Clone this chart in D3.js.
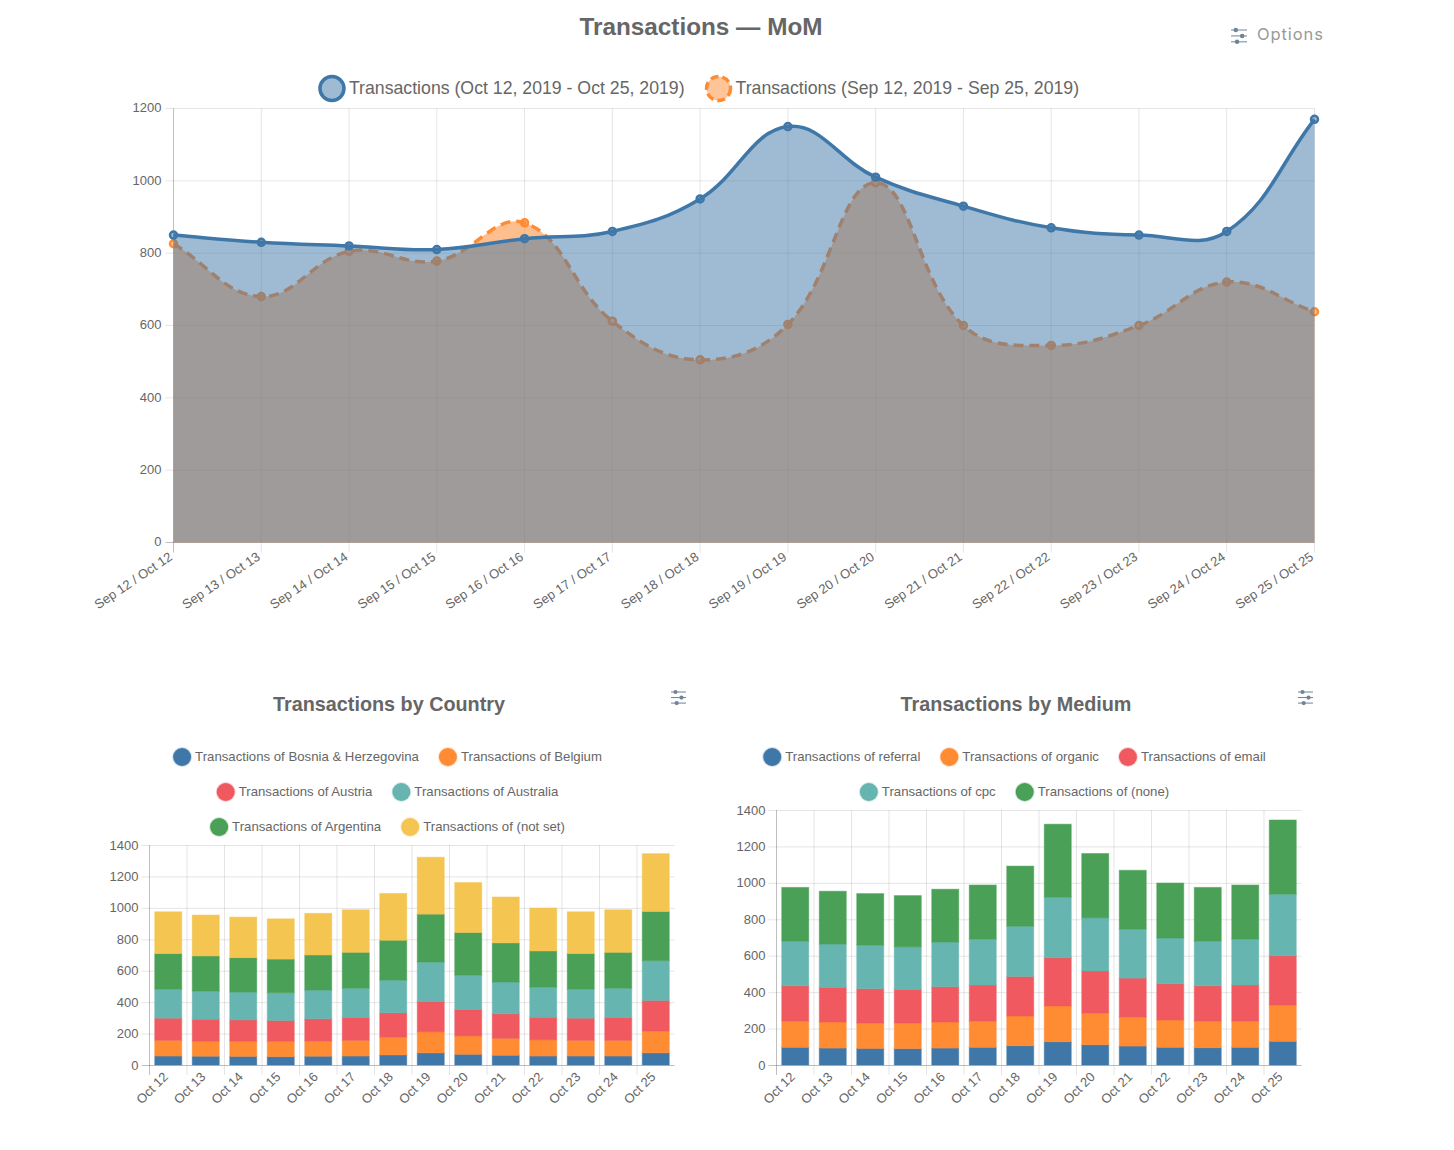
<!DOCTYPE html>
<html>
<head>
<meta charset="utf-8">
<script src="https://cdnjs.cloudflare.com/ajax/libs/d3/7.8.5/d3.min.js"></script>
<style>
	html, body { margin: 0; padding: 0; background: #fff; }
	svg { display: block; }
	text { font-family: "Liberation Sans", Arial, sans-serif; fill: #666; }
</style>
</head>
<body>
<svg id="page" width="1454" height="1150"></svg>
<script>

// main chart
var momLabels = ["Sep 12 / Oct 12", "Sep 13 / Oct 13", "Sep 14 / Oct 14", "Sep 15 / Oct 15", "Sep 16 / Oct 16", "Sep 17 / Oct 17", "Sep 18 / Oct 18", "Sep 19 / Oct 19", "Sep 20 / Oct 20", "Sep 21 / Oct 21", "Sep 22 / Oct 22", "Sep 23 / Oct 23", "Sep 24 / Oct 24", "Sep 25 / Oct 25"];
var currentPeriod = [850, 830, 820, 810, 840, 860, 950, 1150, 1010, 930, 870, 850, 860, 1170];
var previousPeriod = [826, 680, 805, 778, 884, 612, 505, 603, 995, 600, 545, 600, 720, 638];
var momTicks = [0, 200, 400, 600, 800, 1000, 1200];

// bar charts
var days = ["Oct 12", "Oct 13", "Oct 14", "Oct 15", "Oct 16", "Oct 17", "Oct 18", "Oct 19", "Oct 20", "Oct 21", "Oct 22", "Oct 23", "Oct 24", "Oct 25"];
var barTicks = [0, 200, 400, 600, 800, 1000, 1200, 1400];

var bosnia = [57, 56, 55, 53, 56, 57, 64, 77, 68, 62, 57, 57, 57, 77];
var belgium = [100, 95, 96, 98, 97, 100, 113, 134, 117, 108, 103, 100, 100, 138];
var austria = [141, 140, 136, 132, 141, 145, 155, 193, 168, 156, 144, 141, 145, 196];
var australia = [185, 179, 177, 177, 183, 187, 208, 251, 219, 202, 192, 185, 187, 253];
var argentina = [226, 224, 219, 214, 223, 228, 254, 305, 271, 249, 230, 226, 228, 313];
var notSet = [266, 260, 258, 256, 265, 271, 298, 362, 318, 292, 273, 266, 271, 368];

var referral = [97, 93, 91, 90, 93, 97, 106, 128, 111, 104, 97, 95, 97, 130];
var organic = [144, 143, 139, 140, 143, 144, 163, 196, 174, 159, 150, 146, 144, 199];
var email = [194, 190, 189, 185, 194, 198, 217, 265, 231, 214, 199, 194, 198, 271];
var cpc = [245, 238, 239, 234, 245, 252, 276, 332, 292, 269, 251, 245, 252, 338];
var none = [295, 290, 283, 281, 290, 297, 330, 401, 353, 323, 302, 295, 297, 407];

var blue = "#3f78a8", orange = "#ff8b33", red = "#f0595f", teal = "#66b5b0", green = "#49a056", yellow = "#f4c551";
var gridColor = "rgba(0,0,0,0.1)", zeroColor = "rgba(0,0,0,0.25)";

var svg = d3.select("#page");

// same bezier rule the original chart uses: control points scaled by neighbour distance
function splinePath(pts, baseY, tension) {
	var p = d3.path();
	var cps = pts.map(function(d, i) {
		var prev = pts[i - 1] || d, next = pts[i + 1] || d;
		var d01 = Math.hypot(d[0] - prev[0], d[1] - prev[1]);
		var d12 = Math.hypot(next[0] - d[0], next[1] - d[1]);
		var sum = d01 + d12 || 1;
		var fa = tension * d01 / sum, fb = tension * d12 / sum;
		return {
			px: d[0] - fa * (next[0] - prev[0]), py: d[1] - fa * (next[1] - prev[1]),
			nx: d[0] + fb * (next[0] - prev[0]), ny: d[1] + fb * (next[1] - prev[1])
		};
	});
	if (baseY !== null) {
		p.moveTo(pts[0][0], baseY);
		p.lineTo(pts[0][0], pts[0][1]);
	} else {
		p.moveTo(pts[0][0], pts[0][1]);
	}
	for (var i = 1; i < pts.length; i++) {
		p.bezierCurveTo(cps[i - 1].nx, cps[i - 1].ny, cps[i].px, cps[i].py, pts[i][0], pts[i][1]);
	}
	if (baseY !== null) {
		p.lineTo(pts[pts.length - 1][0], baseY);
		p.closePath();
	}
	return p.toString();
}

function slidersIcon(x, y, w, color) {
	var g = svg.append("g").attr("transform", "translate(" + x + "," + y + ")");
	var rows = [[0, 0.3], [1, 0.7], [2, 0.38]];
	var gap = w * 0.37;
	rows.forEach(function(r) {
		g.append("line").attr("x1", 0).attr("x2", w).attr("y1", r[0] * gap).attr("y2", r[0] * gap)
			.attr("stroke", color).attr("stroke-width", 1);
		g.append("circle").attr("cx", w * r[1]).attr("cy", r[0] * gap).attr("r", w * 0.14).attr("fill", color);
	});
}

// rows of centered legend items, measured from the real text width
function legend(rows, cx, startY, rowH, opt) {
	rows.forEach(function(row, r) {
		var g = svg.append("g");
		var x = 0;
		row.forEach(function(item, i) {
			var it = g.append("g").attr("transform", "translate(" + x + ",0)");
			it.append("circle").attr("cx", opt.radius).attr("cy", 0).attr("r", opt.radius)
				.attr("fill", item.fill).attr("stroke", item.stroke).attr("stroke-width", opt.strokeWidth)
				.attr("stroke-dasharray", item.dash || null);
			var t = it.append("text").attr("x", opt.radius + opt.textGap).attr("y", 0)
				.attr("dy", "0.3em").style("font-size", opt.fontSize + "px").text(item.name);
			x += opt.radius + opt.textGap + t.node().getComputedTextLength() + opt.itemGap;
		});
		var total = x - opt.itemGap;
		g.attr("transform", "translate(" + (cx - total / 2) + "," + (startY + r * rowH) + ")");
	});
}

function drawMom() {
	var left = 173.5, right = 1314.5, top = 108.5, bottom = 542.5;
	var x = d3.scalePoint().domain(momLabels).range([left, right]);
	var y = d3.scaleLinear().domain([0, 1200]).range([bottom, top]);
	var g = svg.append("g");

	momTicks.forEach(function(t) {
		g.append("line").attr("x1", left - 8).attr("x2", right).attr("y1", y(t)).attr("y2", y(t))
			.attr("stroke", t === 0 ? zeroColor : gridColor);
		g.append("text").attr("x", left - 12).attr("y", y(t)).attr("dy", "0.3em")
			.attr("text-anchor", "end").style("font-size", "13px").text(t);
	});
	momLabels.forEach(function(l, i) {
		g.append("line").attr("x1", x(l)).attr("x2", x(l)).attr("y1", top).attr("y2", bottom + 10)
			.attr("stroke", i === 0 ? zeroColor : gridColor);
		g.append("text").attr("transform", "translate(" + (x(l) - 4) + "," + (bottom + 11) + ") rotate(-34)")
			.attr("text-anchor", "end").attr("dy", "0.5em").style("font-size", "13px").text(l);
	});

	// second period goes first, the first period sits on top of it
	var series = [
		{values: previousPeriod, color: orange, dash: "10,6", fillOpacity: 0.56},
		{values: currentPeriod, color: blue, dash: null, fillOpacity: 0.5}
	];
	series.forEach(function(s) {
		var pts = s.values.map(function(v, i) { return [x(momLabels[i]), y(v)]; });
		g.append("path").attr("d", splinePath(pts, bottom, 0.4)).attr("fill", s.color).attr("fill-opacity", s.fillOpacity);
		g.append("path").attr("d", splinePath(pts, null, 0.4)).attr("fill", "none")
			.attr("stroke", s.color).attr("stroke-width", 3.5).attr("stroke-dasharray", s.dash);
		g.selectAll(null).data(pts).enter().append("circle")
			.attr("cx", function(d) { return d[0]; })
			.attr("cy", function(d) { return d[1]; })
			.attr("r", 3.5)
			.attr("fill", s.color).attr("fill-opacity", 0.5)
			.attr("stroke", s.color).attr("stroke-width", 2.5);
	});

	svg.append("text").attr("x", 701).attr("y", 35).attr("text-anchor", "middle")
		.style("font-size", "24.3px").style("font-weight", "bold").text("Transactions — MoM");

	legend([[
		{name: "Transactions (Oct 12, 2019 - Oct 25, 2019)", fill: "rgba(63,120,168,0.5)", stroke: blue},
		{name: "Transactions (Sep 12, 2019 - Sep 25, 2019)", fill: "rgba(255,139,51,0.5)", stroke: orange, dash: "8,4"}
	]], 699.5, 88.5, 0, {radius: 12, strokeWidth: 3.5, textGap: 17, itemGap: 22, fontSize: 17.7});

	slidersIcon(1231, 30, 16, "#6f8499");
	svg.append("text").attr("x", 1257).attr("y", 34).attr("dy", "0.35em")
		.style("font-family", "Inter, sans-serif").style("font-size", "16.5px").style("fill", "#999")
		.style("letter-spacing", "0.9px")
		.text("Options");
}

function drawBars(opt) {
	var x = d3.scaleBand().domain(days).range([opt.left, opt.right]);
	var y = d3.scaleLinear().domain([0, 1400]).range([opt.bottom, opt.top]);
	var g = svg.append("g");

	barTicks.forEach(function(t) {
		// half pixel keeps the 1px rules crisp
		g.append("line").attr("x1", opt.left - 8).attr("x2", opt.right).attr("y1", y(t) + 0.5).attr("y2", y(t) + 0.5)
			.attr("stroke", t === 0 ? zeroColor : gridColor);
		g.append("text").attr("x", opt.left - 11).attr("y", y(t)).attr("dy", "0.35em")
			.attr("text-anchor", "end").style("font-size", "13px").text(t);
	});
	days.forEach(function(l, i) {
		g.append("line").attr("x1", x(l)).attr("x2", x(l)).attr("y1", opt.top).attr("y2", opt.bottom + 10)
			.attr("stroke", i === 0 ? zeroColor : gridColor);
		g.append("text").attr("transform", "translate(" + (x(l) + x.bandwidth() / 2 - 4) + "," + (opt.bottom + 8) + ") rotate(-45)")
			.attr("text-anchor", "end").attr("dy", "0.5em").style("font-size", "13px").text(l);
	});

	var barW = x.bandwidth() * 0.72;
	var keys = opt.series.map(function(s, i) { return i; });
	var stacked = d3.stack().keys(keys)
		.value(function(d, k) { return opt.series[k].values[d]; })(days.map(function(d, i) { return i; }));

	stacked.forEach(function(layer, k) {
		g.selectAll(null).data(layer).enter().append("rect")
			.attr("x", function(d) { return x(days[d.data]) + (x.bandwidth() - barW) / 2; })
			.attr("y", function(d) { return y(d[1]); })
			.attr("width", barW)
			.attr("height", function(d) { return y(d[0]) - y(d[1]); })
			.attr("fill", opt.series[k].color)
			.attr("stroke", opt.series[k].color).attr("stroke-opacity", 0.5).attr("stroke-width", 1);
	});

	svg.append("text").attr("x", opt.titleX).attr("y", 711).attr("text-anchor", "middle")
		.style("font-size", "19.8px").style("font-weight", "bold").text(opt.title);

	var rows = opt.rows.map(function(row) {
		return row.map(function(i) {
			var c = d3.color(opt.series[i].color); c.opacity = 0.25;
			return {name: opt.series[i].name, fill: opt.series[i].color, stroke: c + ""};
		});
	});
	legend(rows, opt.titleX - 1.5, 757, 35, {radius: 9, strokeWidth: 2, textGap: 13, itemGap: 20, fontSize: 13.2});

	slidersIcon(opt.iconX, 692, 15, "#6f8499");
}

drawMom();

drawBars({
	left: 149.5, right: 674.5, top: 845, bottom: 1065,
	title: "Transactions by Country", titleX: 389, iconX: 671,
	rows: [[0, 1], [2, 3], [4, 5]],
	series: [
		{name: "Transactions of Bosnia & Herzegovina", values: bosnia, color: blue},
		{name: "Transactions of Belgium", values: belgium, color: orange},
		{name: "Transactions of Austria", values: austria, color: red},
		{name: "Transactions of Australia", values: australia, color: teal},
		{name: "Transactions of Argentina", values: argentina, color: green},
		{name: "Transactions of (not set)", values: notSet, color: yellow}
	]
});

drawBars({
	left: 776.5, right: 1301.5, top: 810, bottom: 1065,
	title: "Transactions by Medium", titleX: 1016, iconX: 1298,
	rows: [[0, 1, 2], [3, 4]],
	series: [
		{name: "Transactions of referral", values: referral, color: blue},
		{name: "Transactions of organic", values: organic, color: orange},
		{name: "Transactions of email", values: email, color: red},
		{name: "Transactions of cpc", values: cpc, color: teal},
		{name: "Transactions of (none)", values: none, color: green}
	]
});

</script>
</body>
</html>
